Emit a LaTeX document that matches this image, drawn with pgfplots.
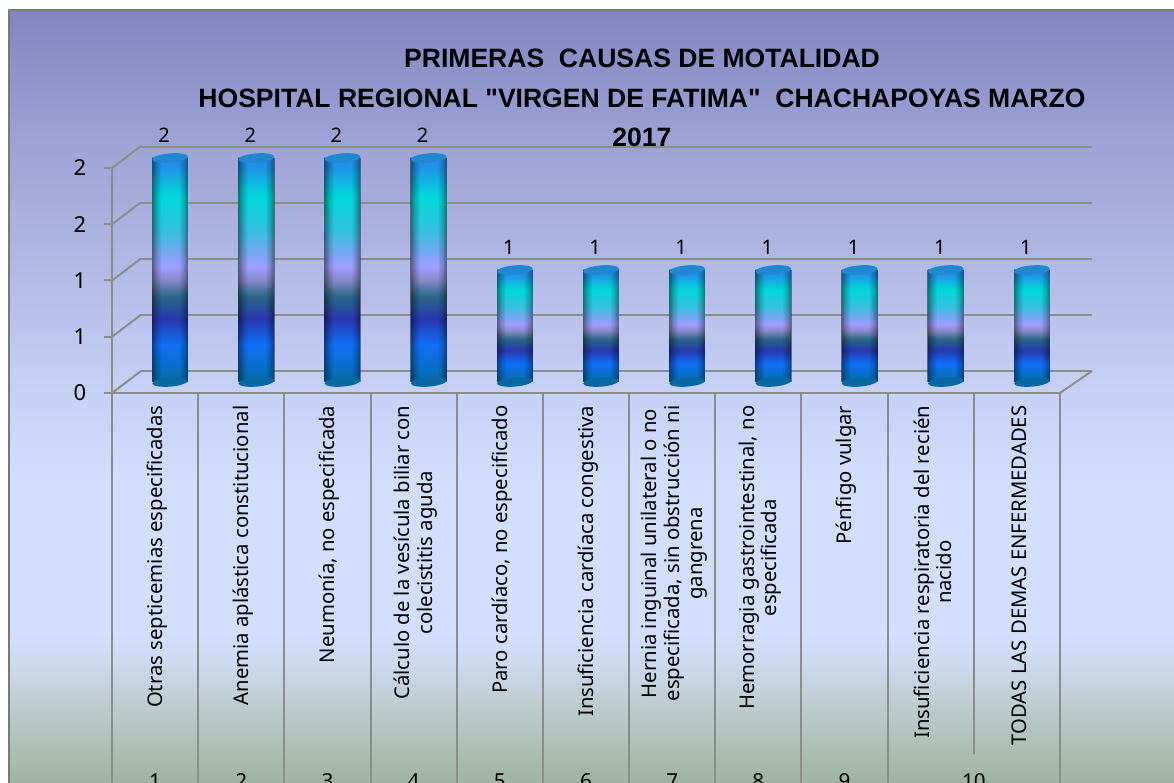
\documentclass[border=0pt]{standalone}
\usepackage{fontspec}
\setmainfont{Noto Sans}
\newfontfamily\titlefont{Liberation Sans}
\usepackage{pgfplots}
\usepackage{pgfplotstable}
\pgfplotsset{compat=1.18}
\usetikzlibrary{fadings}
\newlength\uu \setlength\uu{0.75pt}
\definecolor{gl}{HTML}{8C8C88}
\definecolor{capb}{HTML}{2088D0}
\definecolor{baseb}{HTML}{0868A0}
\definecolor{s0}{HTML}{9FB2A2}\definecolor{s1}{HTML}{ACBDB4}\definecolor{s2}{HTML}{BFCDD0}
\definecolor{s3}{HTML}{CDD9F0}\definecolor{s4}{HTML}{D3DEFD}\definecolor{s5}{HTML}{C8D2F6}
\definecolor{s6}{HTML}{9A9DD2}\definecolor{s7}{HTML}{8384C0}
\pgfdeclareverticalshading{bgshade}{100bp}{
 color(0bp)=(s0); color(25bp)=(s0); color(27bp)=(s1); color(30.3bp)=(s2); color(32.8bp)=(s3);
 color(34.7bp)=(s4); color(44.4bp)=(s4); color(49.6bp)=(s5); color(67.8bp)=(s6); color(75bp)=(s7); color(100bp)=(s7)}
\definecolor{b0}{HTML}{0868A8}\definecolor{b1}{HTML}{0870C0}\definecolor{b2}{HTML}{1070F8}
\definecolor{b3}{HTML}{2838B0}\definecolor{b4}{HTML}{2A6888}\definecolor{b5}{HTML}{8888C8}
\definecolor{b6}{HTML}{A09CFF}\definecolor{b7}{HTML}{70A8F0}\definecolor{b8}{HTML}{35C0E0}
\definecolor{b9}{HTML}{00D8D8}\definecolor{b10}{HTML}{2090E8}
\pgfdeclareverticalshading{barshade}{100bp}{
 color(0bp)=(b0); color(25bp)=(b0); color(27.5bp)=(b1); color(33.3bp)=(b2); color(39.1bp)=(b3);
 color(44.2bp)=(b4); color(47.8bp)=(b5); color(50.7bp)=(b6); color(54.3bp)=(b7); color(58.7bp)=(b8);
 color(66.3bp)=(b9); color(73.2bp)=(b10); color(100bp)=(b10)}
\pgfdeclarehorizontalshading{cylsh}{100bp}{
 color(0bp)=(pgftransparent!55); color(25bp)=(pgftransparent!55); color(31bp)=(pgftransparent!80);
 color(38bp)=(pgftransparent!100); color(62bp)=(pgftransparent!100); color(69bp)=(pgftransparent!80);
 color(75bp)=(pgftransparent!55); color(100bp)=(pgftransparent!55)}
\tikzfading[name=cyl, shading=cylsh]
\pgfdeclareplotmark{cap}{%
 \pgfpathellipse{\pgfpointorigin}{\pgfpoint{17.8\uu}{1.5\uu}}{\pgfpoint{-0.4\uu}{4.6\uu}}%
 \pgfusepath{fill}}
\pgfplotstableread{
x y base
0 2 0
1 2 0
2 2 0
3 2 0
4 1 0
5 1 0
6 1 0
7 1 0
8 1 0
9 1 0
10 1 0
}\causes
\begin{document}
\begin{tikzpicture}[x=1\uu,y=1\uu,line join=round]
\path[use as bounding box] (0,0) rectangle (1174,782);
\clip (0,0) rectangle (1174,782);
\fill[white] (0,0) rectangle (1174,782);
\shade[shading=bgshade] (9,0) rectangle (1174,772);
\draw[color=gray!95!black,line width=2\uu] (9,-5) -- (9,772) -- (1180,772);
% back wall
\begin{axis}[at={(141\uu,411\uu)},anchor=south west,scale only axis,width=951\uu,height=224\uu,
 xmin=-0.5,xmax=10.5,ymin=0,ymax=2,ytick={0,0.5,1,1.5,2},xtick=\empty,yticklabels={},
 ymajorgrids,grid style={color=gl,line width=2\uu},axis line style={draw=none},major tick length=0pt]
\addplot[draw=none,forget plot] table[x=x,y=y]{\causes};
\end{axis}
% front frame
\begin{axis}[at={(112\uu,389\uu)},anchor=south west,scale only axis,width=948\uu,height=225\uu,
 xmin=-0.5,xmax=10.5,ymin=0,ymax=2,clip=false,
 axis x line=bottom,axis y line=left,axis line style={color=gl,line width=2\uu,-},
 ytick={0,0.5,1,1.5,2},yticklabels={0,1,1,2,2},
 y tick label style={font=\fontsize{16.5}{16.5}\selectfont,xshift=-13\uu},
 ytick style={color=gl,line width=2\uu},
 tick align=outside,major tick length=8\uu,
 xtick={0,...,10},
 x tick style={draw=none},
 xticklabels={{Otras septicemias especificadas},{Anemia aplástica constitucional},{Neumonía, no especificada},
  {Cálculo de la vesícula biliar con\\colecistitis aguda},{Paro cardíaco, no especificado},{Insuficiencia cardíaca congestiva},
  {Hernia inguinal unilateral o no\\especificada, sin obstrucción ni\\gangrena},{Hemorragia gastrointestinal, no\\especificada},
  {Pénfigo vulgar},{Insuficiencia respiratoria del recién\\nacido},{TODAS LAS DEMAS ENFERMEDADES}},
 x tick label style={xshift=2\uu,rotate=90,anchor=east,align=center,font=\fontsize{15.2}{17}\selectfont},
 xticklabel shift=0pt]
\addplot[draw=none,forget plot] table[x=x,y=y]{\causes};
\foreach \p in {-0.5,0.5,1.5,2.5,3.5,4.5,5.5,6.5,7.5,8.5,10.5}{\edef\tmp{\noexpand\draw[color=gl,line width=2\noexpand\uu] (axis cs:\p,0) -- ++(0pt,-400\noexpand\uu);}\tmp}
\draw[color=gl,line width=2\uu] (axis cs:9.5,0) -- ++(0pt,-361\uu);
\foreach \v in {0,0.5,1,1.5,2}{\edef\tmp{\noexpand\draw[color=gl,line width=2\noexpand\uu] (axis cs:-0.5,\v) -- ++(29\noexpand\uu,22\noexpand\uu);}\tmp}
\draw[color=gl,line width=2\uu] (axis cs:10.5,0) -- ++(32\uu,22\uu);
\foreach \n/\p in {1/0,2/1,3/2,4/3,5/4,6/5,7/6,8/7,9/8,10/9.5}{\edef\tmp{\noexpand\node[font=\noexpand\fontsize{15.5}{15.5}\noexpand\selectfont] at (axis cs:\p,0) [yshift=-388\noexpand\uu] {\n};}\tmp}
\end{axis}
% bars
\begin{axis}[at={(127\uu,400\uu)},anchor=south west,scale only axis,width=948\uu,height=224\uu,
 xmin=-0.5,xmax=10.5,ymin=0,ymax=2,clip=false,hide axis,/pgf/number format/assume math mode=true]
\addplot[only marks,mark=cap,mark options={fill=baseb,draw=none},forget plot] table[x=x,y=base]{\causes};
\pgfplotsinvokeforeach{0,...,10}{
\addplot[ybar,bar width=35.5\uu,bar shift=0pt,draw=none,shade,shading=barshade,forget plot,restrict x to domain=#1:#1] table[x=x,y=y]{\causes};
\addplot[ybar,bar width=36.5\uu,bar shift=0pt,draw=none,fill=black,path fading=cyl,forget plot,restrict x to domain=#1:#1] table[x=x,y=y]{\causes};
}
\addplot[only marks,mark=cap,mark options={fill=capb,draw=none},forget plot,
 nodes near coords,point meta=y,
 every node near coord/.style={anchor=center,xshift=-6\uu,yshift=23\uu,font=\fontsize{15}{15}\selectfont,color=black}]
 table[x=x,y=y]{\causes};
\end{axis}
\node[font=\titlefont\fontsize{19.9}{29.5}\selectfont\bfseries,align=center,anchor=center] at (642,684) {PRIMERAS\ \ CAUSAS DE MOTALIDAD\\HOSPITAL REGIONAL "VIRGEN DE FATIMA"\ \ CHACHAPOYAS MARZO\\2017};
\end{tikzpicture}
\end{document}
